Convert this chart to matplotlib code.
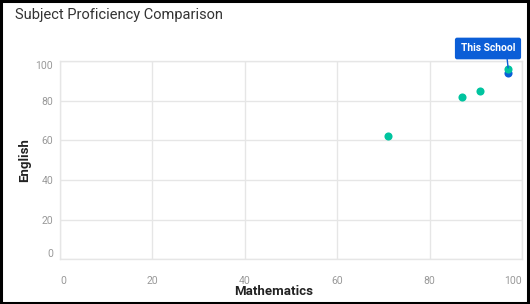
import matplotlib.pyplot as plt
from matplotlib.patches import Rectangle

# -----------------------------
# Data
# -----------------------------
math_scores = [71, 87, 91, 97]
english_scores = [62, 82, 85, 96]
school_math = [97]
school_english = [94]
school_label = "This School"

x_ticks = [0, 20, 40, 60, 80, 100]
y_ticks = [0, 20, 40, 60, 80, 100]

teal = "#00c49f"
blue = "#0b5ed7"
grid_col = "#e6e6e6"
tick_col = "#999999"

plt.rcParams['font.family'] = ['Roboto', 'DejaVu Sans']

fig = plt.figure(figsize=(5.3, 3.04), dpi=100)
ax = fig.add_axes([0.1132, 0.1464, 0.8717, 0.653])

# black frame round the whole picture
fig.patches.append(Rectangle((0.002, 0.004), 0.994, 0.992, transform=fig.transFigure,
                             fill=False, edgecolor='black', linewidth=2.2))

fig.text(15 / 530, 1 - 15 / 304, "Subject Proficiency Comparison", fontsize=10.5,
         color='#333333', va='center', ha='left')

# points: school first so the teal one sits on top
ax.scatter(school_math, school_english, s=34, color=blue, zorder=3, linewidths=0)
ax.scatter(math_scores, english_scores, s=34, color=teal, zorder=4, linewidths=0)

ax.annotate(school_label, xy=(school_math[0], school_english[0] + 2.5),
            xytext=(-14.5, 14), textcoords='offset points',
            ha='center', va='center', fontsize=7.4, fontweight='bold', color='white',
            bbox=dict(boxstyle='round,pad=0.5,rounding_size=0.15', fc=blue, ec=blue),
            arrowprops=dict(arrowstyle='-', color=blue, lw=1.0, relpos=(0.84, 0),
                            shrinkA=0, shrinkB=0),
            zorder=5)

ax.set_xlim(0, 100)
ax.set_ylim(0, 100)
ax.set_xticks(x_ticks)
ax.set_yticks(y_ticks)
ax.set_xticklabels([str(t) for t in x_ticks])
ax.set_yticklabels([str(t) for t in y_ticks])

ax.grid(True, color=grid_col, linewidth=1)
ax.set_axisbelow(True)
for spine in ax.spines.values():
    spine.set_color(grid_col)
    spine.set_linewidth(1)

ax.tick_params(axis='both', length=0, colors=tick_col, labelsize=7.5)
ax.tick_params(axis='x', pad=12)
ax.tick_params(axis='y', pad=5)

# keep end labels inside the plot like the reference
xl = ax.get_xticklabels()
xl[0].set_ha('left')
xl[-1].set_ha('right')
yl = ax.get_yticklabels()
yl[0].set_va('bottom')
yl[-1].set_va('top')

ax.set_xlabel("Mathematics", fontsize=9.5, fontweight='semibold', color='#222222')
ax.set_ylabel("English", fontsize=9.5, fontweight='semibold', color='#222222')
ax.xaxis.set_label_coords(0.462, -0.16)
ax.yaxis.set_label_coords(-0.076, 0.5)
ax.xaxis.label.set_va('center')
ax.yaxis.label.set_va('center')

fig.savefig("out.png", dpi=100)
